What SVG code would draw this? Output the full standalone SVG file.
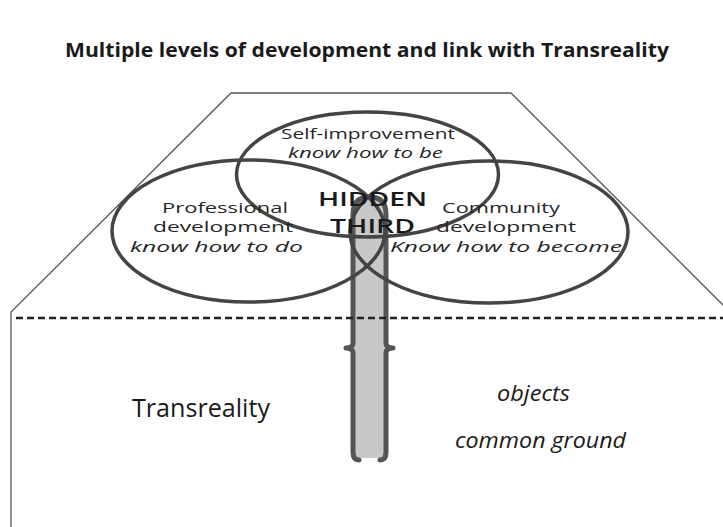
<svg xmlns="http://www.w3.org/2000/svg" width="723" height="527" viewBox="0 0 723 527">
<style>
.t{font-family:"Open Sans","Liberation Sans",sans-serif;fill:#262626;font-size:15px}
.i{font-style:italic}
.e{fill:none;stroke:#444;stroke-width:3.5}
.big{font-family:"Open Sans","Liberation Sans",sans-serif;fill:#1a1a1a}
</style>
<rect width="723" height="527" fill="#fff"/>
<text x="65" y="57" class="big" font-weight="bold" font-size="19" textLength="604" lengthAdjust="spacingAndGlyphs">Multiple levels of development and link with Transreality</text>
<g id="plane">
<polyline points="11,527 11,312 231,93 511,93 730,312" fill="none" stroke="#555" stroke-width="1.3"/>
</g>
<g id="stem">
<path d="M353,458 L353,214 Q353,197 369.5,197 Q386,197 386,214 L386,458 Z" fill="#c8c8c8"/>
<path d="M359,460 Q353,460 353,452 L353,353 Q353,348 346,348 Q353,348 353,343 L353,214 Q353,197 369.5,197 Q386,197 386,214 L386,343 Q386,348 393,348 Q386,348 386,353 L386,452 Q386,460 380,460" fill="none" stroke="#555" stroke-width="5" stroke-linejoin="round" stroke-linecap="round"/>
</g>
<g id="self-improvement">
<ellipse class="e" cx="367.5" cy="174.5" rx="131" ry="62.5"/>
</g>
<g id="professional">
<ellipse class="e" cx="248.5" cy="231" rx="136.5" ry="71"/>
</g>
<g id="community">
<ellipse class="e" cx="489" cy="232" rx="139" ry="71"/>
</g>
<g id="connectors">
<line x1="16" y1="318" x2="723" y2="318" stroke="#222" stroke-width="2.5" stroke-dasharray="7 4"/>
</g>
<g id="labels">
<text class="t" x="281" y="139" textLength="174" lengthAdjust="spacingAndGlyphs">Self-improvement</text>
<text class="t i" x="288" y="158" textLength="155" lengthAdjust="spacingAndGlyphs">know how to be</text>
<text class="t" x="162" y="213" textLength="126" lengthAdjust="spacingAndGlyphs">Professional</text>
<text class="t" x="153" y="232" textLength="140" lengthAdjust="spacingAndGlyphs">development</text>
<text class="t i" x="130" y="252" textLength="173" lengthAdjust="spacingAndGlyphs">know how to do</text>
<text class="t" x="442" y="213" textLength="118" lengthAdjust="spacingAndGlyphs">Community</text>
<text class="t" x="436" y="232" textLength="140" lengthAdjust="spacingAndGlyphs">development</text>
<text class="t i" x="390" y="252" textLength="232" lengthAdjust="spacingAndGlyphs">Know how to become</text>
<text class="big" x="318" y="206" font-size="19" font-weight="600" textLength="109" lengthAdjust="spacingAndGlyphs">HIDDEN</text>
<text class="big" x="330" y="233" font-size="19" font-weight="600" textLength="85" lengthAdjust="spacingAndGlyphs">THIRD</text>
<text class="big" x="132" y="417" font-size="25" textLength="138" lengthAdjust="spacingAndGlyphs">Transreality</text>
<text class="big" x="497" y="401" font-size="22" font-style="italic" textLength="73" lengthAdjust="spacingAndGlyphs">objects</text>
<text class="big" x="455" y="448" font-size="22" font-style="italic" textLength="171" lengthAdjust="spacingAndGlyphs">common ground</text>
</g>
</svg>
